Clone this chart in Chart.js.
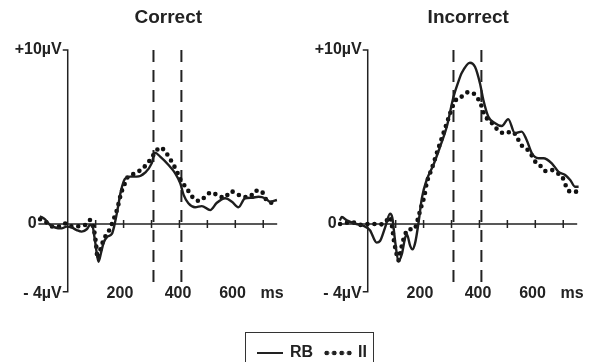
<!DOCTYPE html>
<html>
<head>
<meta charset="utf-8">
<script src="https://cdn.jsdelivr.net/npm/chart.js@4.4.0/dist/chart.umd.min.js"></script>
<style>
  body { margin: 0; background: #fff; }
  #wrap { position: relative; width: 590px; height: 362px; overflow: hidden; font-family: "Liberation Sans", Arial, sans-serif; }
  canvas { position: absolute; top: 0; }
  #legend { position: absolute; left: 245px; top: 332px; width: 127px; height: 40px; border: 1px solid #333; }
  #legend span { position: absolute; }
  .lbl { font-weight: bold; font-size: 16px; color: #222; top: 11px; line-height: 16px; }
</style>
</head>
<body>
<div id="wrap">
  <canvas id="correctChart" width="295" height="362" style="left:0"></canvas>
  <canvas id="incorrectChart" width="295" height="362" style="left:295px"></canvas>
  <div id="legend">
    <span style="left:11px;top:19px;width:26px;border-top:2px solid #222"></span>
    <span class="lbl" style="left:44px">RB</span>
    <span style="left:77px;top:17px;width:30px;height:6px;background:radial-gradient(circle, #222 2.2px, transparent 2.6px) 0 0 / 7.5px 6px repeat-x"></span>
    <span class="lbl" style="left:112px">II</span>
  </div>
</div>
<script>
// time (ms) and amplitude (µV)
var correctRBTime = [-100, -81, -63, -45, -22, -4, 14, 32, 50, 68, 80, 88, 98, 110, 120, 128, 142, 158, 166, 178, 190, 205, 223, 247, 277, 301, 312, 331, 361, 385, 403, 415, 432, 456, 480, 510, 534, 564, 588, 611, 635, 659, 683, 707, 725, 749];
var correctRB = [0.45, 0.27, -0.06, -0.2, -0.25, -0.15, -0.2, -0.35, -0.44, -0.3, -0.06, -0.1, -1.0, -2.17, -1.6, -1.1, -0.73, -0.57, -0.15, 0.8, 1.86, 2.6, 2.72, 2.72, 2.95, 3.5, 4.1, 3.87, 3.39, 2.91, 2.34, 1.67, 1.19, 0.96, 1.03, 0.8, 1.22, 1.48, 1.28, 0.96, 1.48, 1.51, 1.57, 1.48, 1.28, 1.38];

var correctIITime = [-99, -75, -54, -30, -6, 18, 42, 62, 80, 94, 101, 107, 113, 122, 134, 146, 158, 170, 178, 185, 193, 205, 214, 235, 257, 277, 293, 309, 325, 331, 352, 367, 381, 394, 403, 417, 432, 450, 472, 492, 514, 538, 561, 584, 608, 630, 653, 671, 693, 707, 725, 749];
var correctII = [0.27, 0.08, -0.15, -0.15, 0.04, -0.15, -0.12, -0.06, 0.23, -0.35, -1.1, -1.97, -1.68, -1.2, -0.73, -0.44, 0, 0.52, 0.9, 1.38, 1.86, 2.34, 2.68, 2.87, 3.06, 3.33, 3.64, 4.02, 4.35, 4.4, 4.1, 3.72, 3.33, 2.91, 2.57, 2.24, 1.9, 1.49, 1.32, 1.57, 1.82, 1.63, 1.51, 1.88, 1.71, 1.55, 1.57, 1.91, 1.9, 1.48, 1.22, 1.34];

var incorrectRBTime = [-100, -93, -75, -46, -16, 8, 32, 44, 62, 80, 88, 98, 110, 122, 134, 140, 152, 160, 170, 181, 194, 211, 235, 259, 283, 307, 325, 336, 366, 384, 402, 414, 432, 456, 480, 503, 527, 551, 569, 588, 611, 629, 659, 683, 707, 725, 743, 755];
var incorrectRB = [0.2, 0.4, 0.21, 0.02, -0.1, -0.36, -1.07, -0.98, -0.21, 0.59, 0.36, -0.98, -2.13, -1.74, -0.79, -0.59, -1.26, -1.46, -1.07, -0.02, 1.5, 2.53, 3.39, 4.44, 5.59, 7.3, 8.2, 8.66, 9.27, 9.04, 8.08, 7.13, 6.17, 5.79, 5.63, 6.03, 5.21, 5.31, 4.83, 4.06, 3.78, 3.78, 3.49, 3.0, 2.82, 2.53, 2.14, 2.14];

var incorrectIITime = [-99, -70, -46, -22, 2, 26, 50, 68, 80, 86, 94, 101, 110, 119, 128, 146, 167, 176, 184, 194, 203, 211, 223, 235, 247, 259, 271, 283, 295, 309, 325, 336, 358, 378, 394, 406, 414, 429, 448, 466, 490, 516, 534, 546, 567, 585, 597, 618, 636, 659, 681, 698, 710, 725, 746];
var incorrectII = [0, 0.08, 0.08, -0.06, 0, 0, -0.02, 0.21, 0.4, -0.02, -0.98, -1.55, -2.09, -1.46, -0.88, -0.3, -0.3, 0.08, 0.56, 1.13, 1.61, 2.34, 2.91, 3.45, 4.06, 4.64, 5.21, 5.79, 6.36, 6.94, 7.28, 7.32, 7.57, 7.51, 7.22, 6.84, 6.45, 6.02, 5.75, 5.4, 5.21, 5.31, 5.02, 4.6, 4.35, 4.0, 3.64, 3.35, 3.05, 3.1, 2.91, 2.66, 2.18, 1.86, 1.86];

var xTicks = [100, 200, 300, 400, 500, 600, 700];
var xLabels = ['200', '400', '600', 'ms'];
var xLabelAt = [187, 395, 590, 732];
var windowLines = [307, 407];

function toPoints(times, values) {
  return times.map(function(t, i) { return { x: t, y: values[i] }; });
}

var axesPlugin = {
  id: 'erpAxes',
  beforeDatasetsDraw: function(chart) {
    var ctx = chart.ctx;
    var xs = chart.scales.x, ys = chart.scales.y;
    var x0 = xs.getPixelForValue(0), y0 = ys.getPixelForValue(0);
    var top = ys.getPixelForValue(10), bottom = ys.getPixelForValue(-3.9);
    ctx.save();
    ctx.strokeStyle = '#222';
    ctx.fillStyle = '#222';
    ctx.lineWidth = 1.5;

    // y axis with end ticks
    ctx.beginPath();
    ctx.moveTo(x0 - 5, top); ctx.lineTo(x0, top);
    ctx.lineTo(x0, bottom); ctx.lineTo(x0 - 5, bottom);
    ctx.stroke();

    // x axis through zero
    ctx.beginPath();
    ctx.moveTo(xs.getPixelForValue(-105), y0);
    ctx.lineTo(xs.getPixelForValue(750), y0);
    xTicks.forEach(function(t) {
      var px = xs.getPixelForValue(t);
      ctx.moveTo(px, y0 - 4); ctx.lineTo(px, y0 + 4);
    });
    ctx.stroke();

    // analysis window
    ctx.lineWidth = 2;
    ctx.setLineDash([12, 8]);
    ctx.beginPath();
    windowLines.forEach(function(t) {
      var px = xs.getPixelForValue(t);
      ctx.moveTo(px, top); ctx.lineTo(px, ys.getPixelForValue(-3.4));
    });
    ctx.stroke();
    ctx.setLineDash([]);

    // texts
    ctx.textBaseline = 'middle';
    ctx.font = 'bold 19px "Liberation Sans", Arial, sans-serif';
    ctx.textAlign = 'center';
    ctx.fillText(chart.options.plugins.erpAxes.title, xs.getPixelForValue(360), 18);

    ctx.font = 'bold 16px "Liberation Sans", Arial, sans-serif';
    ctx.textAlign = 'right';
    ctx.fillText('+10\u00b5V', x0 - 6, top);
    ctx.fillText('0', x0 - 31, y0);
    ctx.fillText('- 4\u00b5V', x0 - 6, ys.getPixelForValue(-4));

    ctx.textAlign = 'center';
    xLabels.forEach(function(lab, i) {
      ctx.fillText(lab, xs.getPixelForValue(xLabelAt[i]), 294);
    });
    ctx.restore();
  }
};

function makePanel(id, title, rbT, rbV, iiT, iiV, padLeft, padRight) {
  var ctx = document.getElementById(id).getContext('2d');
  return new Chart(ctx, {
    type: 'line',
    data: {
      datasets: [{
        label: 'RB',
        data: toPoints(rbT, rbV),
        borderColor: '#1e1e1e',
        borderWidth: 2.4,
        pointRadius: 0,
        cubicInterpolationMode: 'monotone'
      }, {
        label: 'II',
        data: toPoints(iiT, iiV),
        borderColor: '#111',
        borderWidth: 4.6,
        borderDash: [0, 7],
        borderCapStyle: 'round',
        pointRadius: 0,
        cubicInterpolationMode: 'monotone'
      }]
    },
    options: {
      responsive: false,
      animation: false,
      clip: false,
      layout: { padding: { left: padLeft, right: padRight, top: 50, bottom: 68.4 } },
      scales: {
        x: { type: 'linear', min: -100, max: 750, display: false },
        y: { type: 'linear', min: -4, max: 10, display: false }
      },
      plugins: {
        legend: { display: false },
        tooltip: { enabled: false },
        erpAxes: { title: title }
      }
    },
    plugins: [axesPlugin]
  });
}

makePanel('correctChart', 'Correct', correctRBTime, correctRB, correctIITime, correctII, 39.8, 17.8);
makePanel('incorrectChart', 'Incorrect', incorrectRBTime, incorrectRB, incorrectIITime, incorrectII, 44.8, 12.8);
</script>
</body>
</html>
